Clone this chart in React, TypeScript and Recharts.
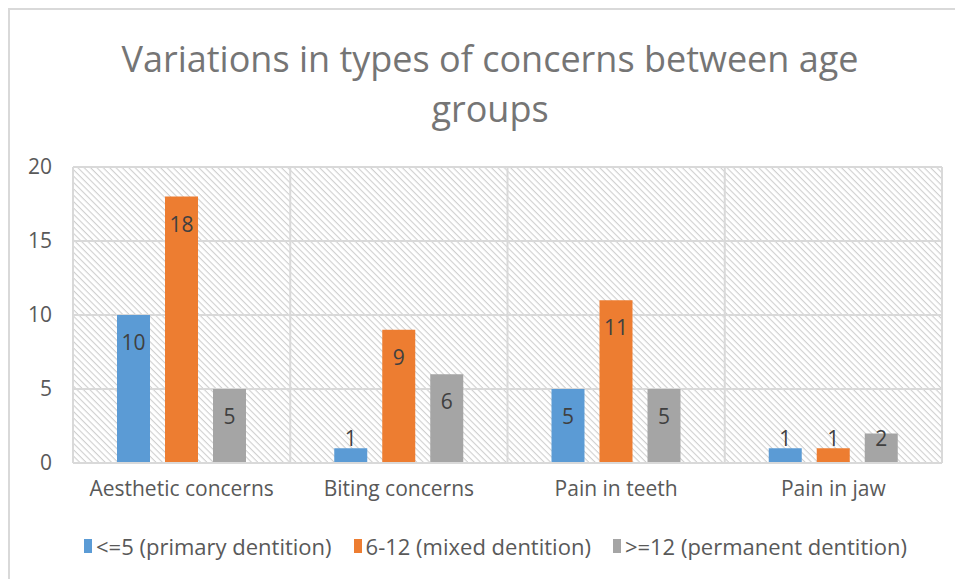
import React from 'react';
import { BarChart, Bar, XAxis, YAxis, CartesianGrid, LabelList } from 'recharts';

const categories = ['Aesthetic concerns', 'Biting concerns', 'Pain in teeth', 'Pain in jaw'];
const primary = [10, 1, 5, 1];
const mixed = [18, 9, 11, 1];
const permanent = [5, 6, 5, 2];
const yTicks = [0, 5, 10, 15, 20];
const gridTicks = [-0.5, 0.5, 1.5, 2.5, 3.5];

const SERIES = [
  { key: 'primary', name: '<=5 (primary dentition)', color: '#5B9BD5' },
  { key: 'mixed', name: '6-12 (mixed dentition)', color: '#ED7D31' },
  { key: 'permanent', name: '>=12 (permanent dentition)', color: '#A5A5A5' },
];

const data = categories.map((name, i) => ({
  name,
  idx: i,
  primary: primary[i],
  mixed: mixed[i],
  permanent: permanent[i],
}));

const FONT = '"Open Sans", sans-serif';
const TEXT = '#595959';

// Excel-style "inside end" label: sits inside the top of tall bars,
// pushed up above the bar when the bar is too short
function ValueLabel(props: any) {
  const { x, y, width, height, value } = props;
  const bottom = y + height;
  const cy = Math.min(y + 27, bottom - 25);
  return (
    <text x={x + width / 2} y={cy} textAnchor="middle" dominantBaseline="central"
      fontFamily={FONT} fontSize={21} fill="#404040">
      {value}
    </text>
  );
}

export default function App() {
  return (
    <div style={{ width: 953, height: 569, borderTop: '2px solid #d9d9d9', borderLeft: '2px solid #d9d9d9', position: 'relative', fontFamily: FONT }}>
      <div style={{ position: 'absolute', left: 0, top: 24, width: 960, textAlign: 'center', fontSize: 36, lineHeight: '50px', color: '#757575' }}>
        Variations in types of concerns between age<br />groups
      </div>
      <BarChart width={953} height={569} data={data}
        margin={{ top: 157, right: 21, left: 0, bottom: 76 }}
        barCategoryGap={44} barGap={15}>
        <defs>
          <pattern id="hatch" patternUnits="userSpaceOnUse" width={4.5} height={4.5} patternTransform="rotate(45)">
            <rect x={0} y={0} width={4.5} height={4.5} fill="#ffffff" />
            <rect x={0} y={0} width={4.5} height={1.1} fill="#cfcfcf" />
          </pattern>
        </defs>
        <XAxis xAxisId="grid" type="number" dataKey="idx" domain={[-0.5, 3.5]} ticks={gridTicks} hide />
        <CartesianGrid xAxisId="grid" fill="url(#hatch)" fillOpacity={1} stroke="#d9d9d9" strokeWidth={2} />
        <XAxis dataKey="name" tickLine={false} axisLine={{ stroke: '#d9d9d9', strokeWidth: 2 }}
          tickSize={0} tickMargin={18} height={40}
          tick={{ fill: TEXT, fontSize: 21, fontFamily: FONT }} />
        <YAxis domain={[0, 20]} ticks={yTicks} width={63} tickLine={false} axisLine={false}
          tickSize={0} tickMargin={21}
          tick={{ fill: TEXT, fontSize: 21, fontFamily: FONT }} />
        {SERIES.map(s => (
          <Bar key={s.key} dataKey={s.key} name={s.name} fill={s.color} isAnimationActive={false}>
            <LabelList dataKey={s.key} content={<ValueLabel />} />
          </Bar>
        ))}
      </BarChart>
      <div style={{ position: 'absolute', left: 0, top: 521, width: 953, display: 'flex', justifyContent: 'center', gap: 22, fontSize: 22, color: TEXT, marginLeft: 9 }}>
        {SERIES.map(s => (
          <div key={s.key} style={{ display: 'flex', alignItems: 'center', gap: 4 }}>
            <div style={{ width: 8, height: 14, background: s.color }} />
            <span>{s.name}</span>
          </div>
        ))}
      </div>
    </div>
  );
}
